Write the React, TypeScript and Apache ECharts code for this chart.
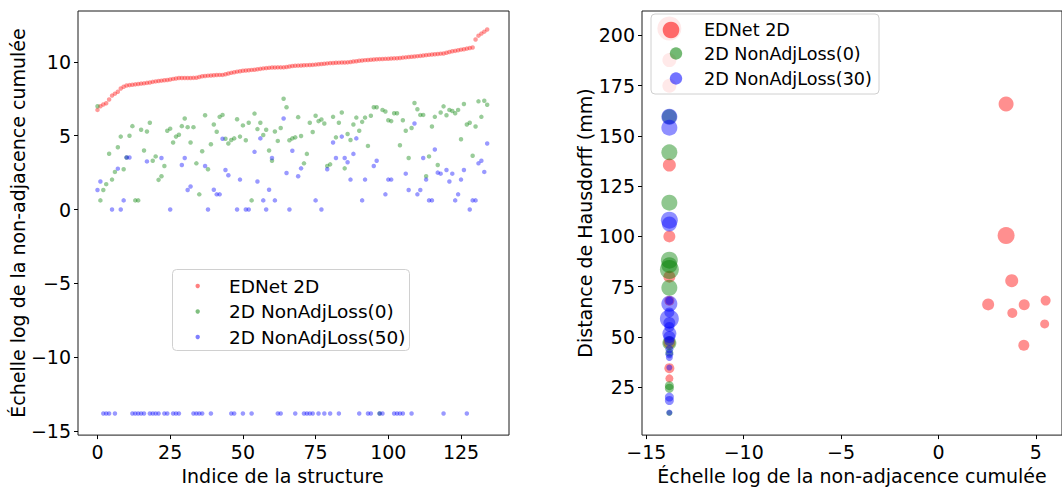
import React, { useEffect, useRef } from "react";
import * as echarts from "echarts";

// ln(1e-6): the value used for structures with no non-adjacency
const ZERO_LOG = -13.8155;
const B = ZERO_LOG;

// ---- Left chart: log cumulative non-adjacence per structure ----
const ednetLog = [
  6.75, 7.0, 7.12, 7.2, 7.45, 7.72, 7.85, 7.98, 8.2, 8.32,
  8.4, 8.43, 8.45, 8.48, 8.5, 8.53, 8.55, 8.58, 8.61, 8.65,
  8.68, 8.71, 8.73, 8.76, 8.78, 8.81, 8.85, 8.88, 8.91, 8.91,
  8.91, 8.91, 8.91, 8.92, 8.93, 8.98, 9.03, 9.05, 9.07, 9.08,
  9.1, 9.11, 9.12, 9.12, 9.17, 9.22, 9.26, 9.3, 9.34, 9.37,
  9.4, 9.42, 9.44, 9.46, 9.47, 9.5, 9.53, 9.56, 9.58, 9.6,
  9.62, 9.62, 9.63, 9.63, 9.63, 9.66, 9.69, 9.72, 9.74, 9.75,
  9.76, 9.77, 9.78, 9.79, 9.8, 9.82, 9.84, 9.86, 9.88, 9.9,
  9.92, 9.93, 9.94, 9.95, 9.96, 9.96, 9.97, 10.0, 10.03, 10.05,
  10.08, 10.1, 10.12, 10.13, 10.15, 10.16, 10.18, 10.19, 10.2, 10.21,
  10.22, 10.23, 10.24, 10.25, 10.27, 10.29, 10.31, 10.33, 10.35, 10.37,
  10.39, 10.41, 10.44, 10.46, 10.48, 10.5, 10.52, 10.54, 10.56, 10.57,
  10.62, 10.67, 10.72, 10.75, 10.79, 10.83, 10.86, 10.9, 10.94, 10.98,
  11.52, 11.78, 11.92, 12.05, 12.2,
];

const nonAdj0Log = [
  7.0, 0.62, 1.32, 1.72, 3.78, 2.03, 2.55, 4.22, 4.94, 2.73,
  3.53, 5.0, 5.65, 0.62, 0.62, 5.41, 4.0, 5.29, 5.88, 3.31,
  3.6, 2.01, 2.26, 2.95, 5.34, 5.48, 4.54, 4.94, 5.07, 5.65,
  6.17, 5.58, 4.54, 5.58, 3.13, 1.03, 3.95, 6.39, 2.73, 4.42,
  5.76, 5.27, 6.28, 6.41, 4.8, 4.47, 4.71, 4.82, 6.12, 4.94,
  5.7, 4.69, 5.88, 0.62, 6.5, 5.45, 5.88, 5.05, 5.41, 4.0,
  3.31, 5.29, 4.65, 5.52, 7.51, 6.93, 4.69, 4.82, 4.89, 6.26,
  4.98, 3.13, 3.77, 5.88, 5.25, 6.35, 5.99, 6.1, 5.83, 2.95,
  3.06, 6.28, 4.89, 5.88, 6.57, 2.79, 5.12, 4.71, 5.76, 6.23,
  5.34, 5.94, 6.23, 4.31, 6.35, 6.93, 6.93, B, 6.75, 6.64,
  6.05, 5.99, 6.52, 6.52, 4.36, 6.05, 5.34, 3.49, 5.52, 7.22,
  6.79, 6.41, 6.41, 2.26, 3.6, 5.63, 6.28, 3.02, 6.57, 6.99,
  6.39, 6.75, 6.68, 6.52, 6.75, 4.76, 7.15, 5.76, 5.88, 3.64,
  5.63, 7.33, 6.28, 7.37, 7.1,
];

const nonAdj50Log = [
  1.32, 1.9, B, B, B, 0, B, 2.77, 0, 0.62,
  3.53, 3.53, B, B, B, B, B, 3.26, B, B,
  B, B, 3.49, B, B, 0, B, B, B, 3.02,
  3.49, 1.32, 1.56, B, B, B, B, 2.95, 0, B,
  1.34, 1.03, 1.03, 4.8, 2.68, 2.32, B, B, 0, 2.03,
  B, 0, 0, B, 3.91, 1.9, 4.82, 0.62, 0, 1.34,
  3.49, 0.62, B, B, 6.17, 2.48, 0, 3.98, B, 2.26,
  2.79, B, B, B, B, 0.62, B, 0, B, 2.73,
  B, 4.54, 3.49, B, 4.94, 3.49, 3.2, 2.03, 3.77, 4.82,
  B, 0.62, 2.03, B, B, 2.95, 3.31, B, B, 1.03,
  2.03, 2.03, B, B, B, B, 2.43, 1.32, B, 5.83,
  1.03, 1.32, 3.49, 2.03, 0.62, 0.62, 4.07, 2.5, 2.43, B,
  2.68, 1.9, 2.43, 0.62, 1.03, 2.03, 2.68, B, 0, 0.62,
  0.62, 3.13, 3.31, 2.55, 4.47,
];

const leftXTicks = [0, 25, 50, 75, 100, 125];
const leftYTicks = [-15, -10, -5, 0, 5, 10];

// ---- Right chart: [log non-adjacence, Hausdorff distance (mm), marker size] ----
const ednetHaus = [
  [ZERO_LOG, 203.4, 24], [ZERO_LOG, 187.7, 14], [ZERO_LOG, 174.9, 14],
  [ZERO_LOG, 135.5, 13], [ZERO_LOG, 100.0, 12], [ZERO_LOG, 80.0, 12],
  [ZERO_LOG, 68.0, 10], [ZERO_LOG, 47.1, 12], [ZERO_LOG, 34.5, 10],
  [ZERO_LOG, 29.4, 8],
  [3.47, 165.9, 15], [3.47, 100.4, 17], [3.76, 78.0, 13], [2.55, 66.2, 12],
  [4.4, 66.0, 11], [5.5, 68.1, 10], [3.79, 61.9, 10], [5.45, 56.5, 9],
  [4.38, 45.9, 11],
];

const nonAdj0Haus = [
  [ZERO_LOG, 159.5, 15], [ZERO_LOG, 141.8, 16], [ZERO_LOG, 116.8, 16],
  [ZERO_LOG, 88.2, 17], [ZERO_LOG, 85.7, 16], [ZERO_LOG, 83.5, 19],
  [ZERO_LOG, 74.5, 16], [ZERO_LOG, 47.0, 14], [ZERO_LOG, 42.2, 8],
  [ZERO_LOG, 25.8, 9], [ZERO_LOG, 24.5, 9], [ZERO_LOG, 12.2, 6],
];

const nonAdj30Haus = [
  [ZERO_LOG, 159.5, 16], [ZERO_LOG, 154.1, 16], [ZERO_LOG, 108.1, 17],
  [ZERO_LOG, 106.2, 15], [ZERO_LOG, 68.0, 8], [ZERO_LOG, 66.5, 16],
  [ZERO_LOG, 62.2, 10], [ZERO_LOG, 59.0, 19], [ZERO_LOG, 57.0, 12],
  [ZERO_LOG, 55.0, 10], [ZERO_LOG, 51.7, 14], [ZERO_LOG, 50.0, 12],
  [ZERO_LOG, 48.0, 10], [ZERO_LOG, 43.9, 8], [ZERO_LOG, 41.4, 8],
  [ZERO_LOG, 39.8, 7], [ZERO_LOG, 34.8, 6], [ZERO_LOG, 20.1, 9],
  [ZERO_LOG, 18.4, 9], [ZERO_LOG, 12.4, 6],
];

const rightXTicks = [-15, -10, -5, 0, 5];
const rightYTicks = [25, 50, 75, 100, 125, 150, 175, 200];

const leftLegend = ["EDNet 2D", "2D NonAdjLoss(0)", "2D NonAdjLoss(50)"];
const rightLegend = ["EDNet 2D", "2D NonAdjLoss(0)", "2D NonAdjLoss(30)"];

const RED = "rgba(255,0,0,0.5)";
const GREEN = "rgba(0,128,0,0.5)";
const BLUE = "rgba(0,0,255,0.5)";
const RED_R = "rgba(255,0,0,0.55)";
const GREEN_R = "rgba(0,128,0,0.55)";
const BLUE_R = "rgba(0,0,255,0.55)";

const FONT = "DejaVu Sans";
const fmt = (v: number) => (v < 0 ? "\u2212" + Math.abs(v) : String(v));

function axisCommon(ticks: number[]) {
  return {
    axisLine: { show: false, onZero: false },
    splitLine: { show: false },
    axisTick: {
      show: true,
      length: 4,
      customValues: ticks,
      lineStyle: { color: "#000", width: 1 },
    },
    axisLabel: {
      customValues: ticks,
      formatter: fmt,
      color: "#000",
      fontFamily: FONT,
      fontSize: 19,
      margin: 7,
    },
    nameTextStyle: { color: "#000", fontFamily: FONT, fontSize: 19 },
  };
}

export default function App() {
  const ref = useRef<HTMLDivElement>(null);

  useEffect(() => {
    if (!ref.current) return;
    const chart = echarts.init(ref.current, null, { renderer: "svg" });
    const idx = ednetLog.map((_, i) => i);

    const legendBlock = (
      x: number,
      y: number,
      w: number,
      h: number,
      markerX: number[],
      textX: number,
      rows: number[],
      labels: string[],
      colors: string[],
      radii: number[],
      fontSize: number
    ) => {
      const els: any[] = [
        {
          type: "rect",
          z: 50,
          shape: { x, y, width: w, height: h, r: 4 },
          style: { fill: "rgba(255,255,255,0.8)", stroke: "#d0d0d0", lineWidth: 1 },
        },
      ];
      labels.forEach((lab, k) => {
        els.push({
          type: "circle",
          z: 51,
          shape: { cx: markerX[k], cy: rows[k], r: radii[k] },
          style: { fill: colors[k] },
        });
        els.push({
          type: "text",
          z: 51,
          x: textX,
          y: rows[k],
          style: {
            text: lab,
            fill: "#000",
            fontFamily: FONT,
            fontSize,
            verticalAlign: "middle",
            align: "left",
          },
        });
      });
      return els;
    };

    const leftCommonX = axisCommon(leftXTicks);

    chart.setOption({
      animation: false,
      backgroundColor: "#fff",
      grid: [
        {
          left: 78,
          top: 11,
          right: 1062 - 509,
          bottom: 50,
          show: true,
          borderColor: "#1a1a1a",
          borderWidth: 1,
          backgroundColor: "transparent",
        },
        {
          left: 642,
          top: 11,
          right: -8,
          bottom: 50,
          show: true,
          borderColor: "#1a1a1a",
          borderWidth: 1,
          backgroundColor: "transparent",
        },
      ],
      xAxis: [
        {
          type: "value",
          gridIndex: 0,
          min: -6.7,
          max: 141.5,
          name: "Indice de la structure",
          nameLocation: "middle",
          nameGap: 30,
          ...leftCommonX,
          nameTextStyle: { ...leftCommonX.nameTextStyle, padding: [0, 22, 0, 0] },
        },
        {
          type: "value",
          gridIndex: 1,
          min: -15.22,
          max: 6.34,
          name: "Échelle log de la non-adjacence cumulée",
          nameLocation: "middle",
          nameGap: 30,
          ...axisCommon(rightXTicks),
        },
      ],
      yAxis: [
        {
          type: "value",
          gridIndex: 0,
          min: -15.28,
          max: 13.45,
          name: "Échelle log de la non-adjacence cumulée",
          nameLocation: "middle",
          nameGap: 46,
          ...axisCommon(leftYTicks),
        },
        {
          type: "value",
          gridIndex: 1,
          min: 1.2,
          max: 212.1,
          name: "Distance de Hausdorff (mm)",
          nameLocation: "middle",
          nameGap: 46,
          ...axisCommon(rightYTicks),
        },
      ],
      series: [
        {
          type: "scatter",
          name: leftLegend[0],
          xAxisIndex: 0,
          yAxisIndex: 0,
          symbolSize: 4.5,
          itemStyle: { color: RED },
          data: idx.map((i) => [i, ednetLog[i]]),
        },
        {
          type: "scatter",
          name: leftLegend[1],
          xAxisIndex: 0,
          yAxisIndex: 0,
          symbolSize: 4.5,
          itemStyle: { color: GREEN },
          data: idx.map((i) => [i, nonAdj0Log[i]]),
        },
        {
          type: "scatter",
          name: leftLegend[2],
          xAxisIndex: 0,
          yAxisIndex: 0,
          symbolSize: 4.5,
          itemStyle: { color: BLUE },
          data: idx.map((i) => [i, nonAdj50Log[i]]),
        },
        {
          type: "scatter",
          name: rightLegend[0] + " ",
          xAxisIndex: 1,
          yAxisIndex: 1,
          symbolSize: (v: number[]) => v[2],
          itemStyle: { color: RED_R },
          data: ednetHaus,
        },
        {
          type: "scatter",
          name: rightLegend[1] + " ",
          xAxisIndex: 1,
          yAxisIndex: 1,
          symbolSize: (v: number[]) => v[2],
          itemStyle: { color: GREEN_R },
          data: nonAdj0Haus,
        },
        {
          type: "scatter",
          name: rightLegend[2],
          xAxisIndex: 1,
          yAxisIndex: 1,
          symbolSize: (v: number[]) => v[2],
          itemStyle: { color: BLUE_R },
          data: nonAdj30Haus,
        },
      ],
      graphic: [
        ...legendBlock(
          172.5, 269.5, 237, 81, [197.7, 197.7, 197.7], 229,
          [286, 311.5, 337], leftLegend, [RED, GREEN, BLUE], [2.2, 2.2, 2.2], 18.5
        ),
        ...legendBlock(
          651, 14, 228, 80, [671, 676, 676], 704,
          [30, 53.5, 78.5], rightLegend, [RED_R, GREEN_R, BLUE_R], [8.3, 6.2, 6.2], 17.6
        ),
      ],
    });

    return () => chart.dispose();
  }, []);

  return (
    <div
      ref={ref}
      style={{ position: "fixed", left: 0, top: 0, width: 1062, height: 490, background: "#fff" }}
    />
  );
}
